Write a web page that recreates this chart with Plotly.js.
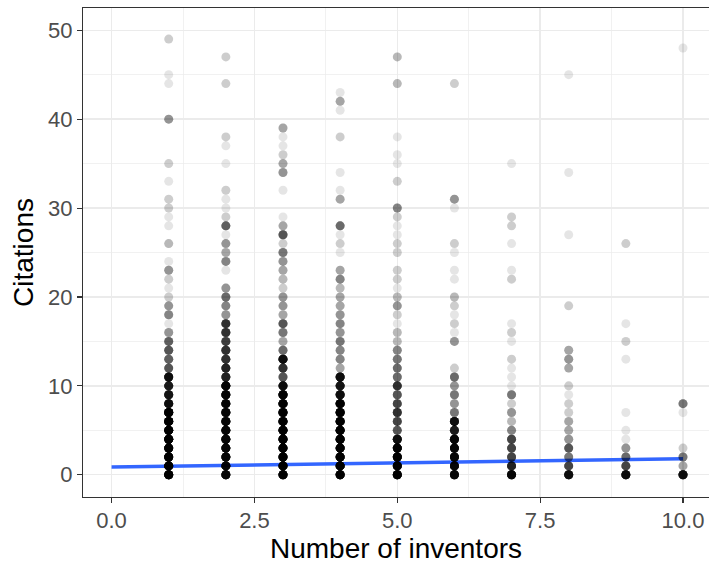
<!DOCTYPE html>
<html>
<head>
<meta charset="utf-8">
<script src="https://cdn.plot.ly/plotly-3.0.1.min.js"></script>
<style>html,body{margin:0;padding:0;background:#fff;}</style>
</head>
<body>
<div id="chart" style="width:709px;height:564px;"></div>
<script>
// Number of inventors (x) for each column of points
const inventorLevels = [1, 2, 3, 4, 5, 6, 7, 8, 9, 10];

// Citations values in each column, with number of overlapping patents at each value
const cit1 = [49,45,44,40,35,33,31,30,29,28,26,24,23,22,21,20,19,18,17,16,15,14,13,12,11,10,9,8,7,6,5,4,3,2,1,0];
const cnt1 = [2,1,1,5,2,1,2,2,1,1,3,1,5,2,1,2,5,6,1,5,9,10,9,10,25,20,22,25,40,40,40,40,40,40,40,40];

const cit2 = [47,44,38,37,35,32,31,30,29,28,27,26,25,24,23,21,20,19,18,17,16,15,14,13,12,11,10,9,8,7,6,5,4,3,2,1,0];
const cnt2 = [2,2,2,1,1,2,1,1,2,9,1,5,4,6,1,5,8,6,5,15,15,13,15,15,18,18,30,30,30,30,30,30,30,30,30,30,30];

const cit3 = [39,38,37,36,35,34,32,29,28,27,26,25,24,23,22,21,20,19,18,17,16,15,14,13,12,11,10,9,8,7,6,5,4,3,2,1,0];
const cnt3 = [4,1,1,2,4,5,1,1,4,10,2,7,5,4,3,2,5,5,4,10,7,4,8,25,15,10,25,35,35,35,35,35,35,35,35,35,35];

const cit4 = [43,42,41,38,34,32,31,28,27,26,25,23,22,21,20,19,18,17,16,15,14,13,12,11,10,9,8,7,6,5,4,3,2,1,0];
const cnt4 = [1,4,1,2,1,1,4,8,1,2,1,4,6,3,4,4,5,6,5,7,6,6,4,25,22,25,35,35,35,35,35,35,35,35,35];

const cit5 = [47,44,38,36,35,33,30,29,28,27,26,25,23,22,21,20,19,18,17,16,15,14,13,12,11,10,9,8,7,6,5,4,3,2,1,0];
const cnt5 = [3,3,1,1,1,2,6,2,1,1,2,2,2,2,1,3,5,2,1,3,3,6,7,8,8,15,10,12,15,12,10,25,35,35,35,35];

const cit6 = [44,31,30,26,25,23,22,20,19,18,17,16,15,12,11,10,9,8,7,6,5,4,3,2,1,0];
const cnt6 = [2,5,1,2,1,1,1,3,2,1,2,1,5,2,8,5,7,5,7,25,20,30,30,30,30,30];

const cit7 = [35,29,28,26,23,22,17,16,15,13,12,11,10,9,8,7,6,5,4,3,2,1,0];
const cnt7 = [1,2,2,1,1,2,1,2,1,2,1,1,1,7,2,5,3,6,12,12,12,18,30];

const cit8 = [45,34,27,19,14,13,12,10,9,8,7,6,5,4,3,2,1,0];
const cnt8 = [1,1,1,2,4,5,4,2,1,2,2,4,4,5,10,7,12,25];

const cit9 = [26,17,15,13,7,5,4,3,2,1,0];
const cnt9 = [2,1,2,1,1,1,1,5,8,12,25];

const cit10 = [48,8,7,3,2,1,0];
const cnt10 = [1,7,1,2,7,4,25];

// Linear fit line
const fitX = [0, 10];
const fitY = [0.87, 1.81];

// Axis ticks
const xTicks = [0, 2.5, 5, 7.5, 10];
const xTickLabels = ["0.0", "2.5", "5.0", "7.5", "10.0"];
const yTicks = [0, 10, 20, 30, 40, 50];

const citCols = [cit1, cit2, cit3, cit4, cit5, cit6, cit7, cit8, cit9, cit10];
const cntCols = [cnt1, cnt2, cnt3, cnt4, cnt5, cnt6, cnt7, cnt8, cnt9, cnt10];

const px = [], py = [];
inventorLevels.forEach((inv, i) => {
  citCols[i].forEach((c, j) => {
    for (let k = 0; k < cntCols[i][j]; k++) { px.push(inv); py.push(c); }
  });
});

const fontFam = '"Liberation Sans", Arial, Helvetica, sans-serif';

const traces = [
  {
    type: 'scatter', mode: 'lines', x: fitX, y: fitY,
    line: {color: '#3366FF', width: 3.5},
    hoverinfo: 'skip', showlegend: false
  },
  {
    type: 'scatter', mode: 'markers', x: px, y: py,
    marker: {color: 'rgba(0,0,0,0.1)', size: 9, line: {width: 0}},
    hoverinfo: 'skip', showlegend: false
  }
];

const gridC = '#EBEBEB';
const layout = {
  width: 709, height: 564,
  margin: {l: 83, r: 0, t: 8, b: 67, pad: 0},
  paper_bgcolor: '#FFFFFF', plot_bgcolor: '#FFFFFF',
  font: {family: fontFam},
  showlegend: false,
  xaxis: {
    range: [-0.5, 10.455],
    tickmode: 'array', tickvals: xTicks, ticktext: xTickLabels,
    ticks: 'outside', ticklen: 5, tickwidth: 1.1, tickcolor: '#333333',
    tickfont: {size: 22, color: '#4D4D4D', family: fontFam},
    ticklabelstandoff: -2,
    showgrid: true, gridcolor: gridC, gridwidth: 1.3,
    minor: {tickmode: 'array', tickvals: [1.25, 3.75, 6.25, 8.75], showgrid: true, gridcolor: gridC, gridwidth: 0.7, ticks: ''},
    zeroline: false,
    showline: true, linecolor: '#333333', linewidth: 1.2, mirror: true,
    title: {text: 'Number of inventors', font: {size: 28, color: '#000000', family: fontFam}, standoff: 6},
    fixedrange: true
  },
  yaxis: {
    range: [-2.5, 52.5],
    tickmode: 'array', tickvals: yTicks,
    ticks: 'outside', ticklen: 5, tickwidth: 1.1, tickcolor: '#333333',
    tickfont: {size: 22, color: '#4D4D4D', family: fontFam},
    showgrid: true, gridcolor: gridC, gridwidth: 1.3,
    minor: {tickmode: 'array', tickvals: [5, 15, 25, 35, 45], showgrid: true, gridcolor: gridC, gridwidth: 0.7, ticks: ''},
    zeroline: false,
    showline: true, linecolor: '#333333', linewidth: 1.2, mirror: false,
    title: {text: 'Citations', font: {size: 28, color: '#000000', family: fontFam}, standoff: 6},
    fixedrange: true
  }
};

Plotly.newPlot('chart', traces, layout, {displayModeBar: false, staticPlot: true});
</script>
</body>
</html>
